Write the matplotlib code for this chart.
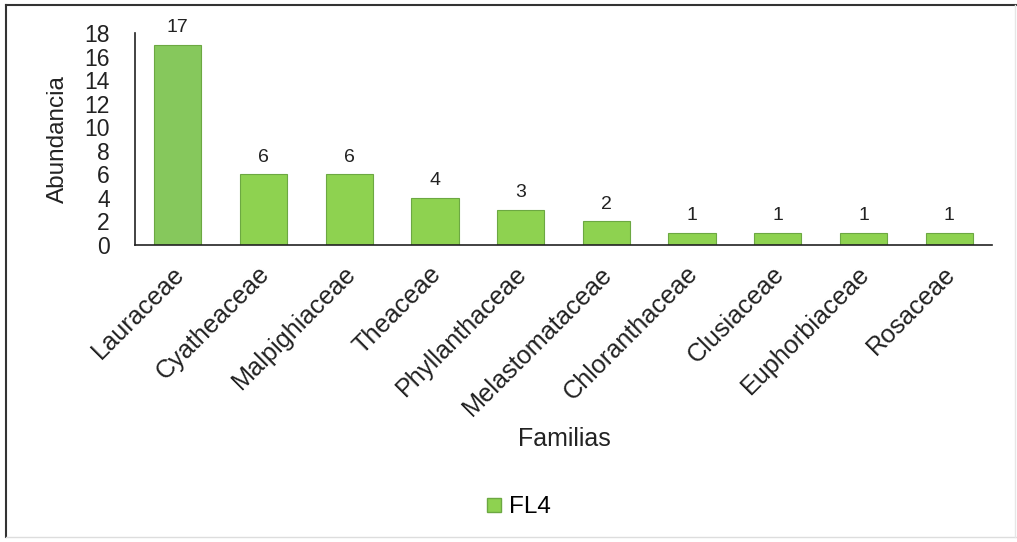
import matplotlib
matplotlib.use("Agg")
import matplotlib.pyplot as plt
import matplotlib.transforms as mtransforms
from matplotlib.lines import Line2D

plt.rcParams['font.family'] = ['Liberation Sans', 'DejaVu Sans']

familias = ["Lauraceae", "Cyatheaceae", "Malpighiaceae", "Theaceae",
            "Phyllanthaceae", "Melastomataceae", "Chloranthaceae",
            "Clusiaceae", "Euphorbiaceae", "Rosaceae"]
abundancia = [17, 6, 6, 4, 3, 2, 1, 1, 1, 1]
serie = "FL4"
y_ticks = [0, 2, 4, 6, 8, 10, 12, 14, 16, 18]

W, H = 1017, 542
fig = plt.figure(figsize=(W / 100, H / 100), dpi=100)
fig.patch.set_facecolor("white")

# axes box in pixel coordinates
left, right, top, bottom = 135, 992, 33, 245
ax = fig.add_axes([left / W, 1 - bottom / H, (right - left) / W, (bottom - top) / H])

x = list(range(len(familias)))
bars = ax.bar(x, abundancia, width=0.55, color="#8ed250",
              edgecolor="#6ca842", linewidth=0.8, label=serie, zorder=2)
bars[0].set_facecolor("#86c85c")

for xi, v in zip(x, abundancia):
    ax.text(xi, v + 0.75, str(v), ha="center", va="bottom",
            fontsize=14, color="#222222")

ax.set_xlim(-0.5, len(familias) - 0.5)
ax.set_ylim(0, 18)
ax.set_yticks(y_ticks)
ax.set_yticklabels([str(t) for t in y_ticks], fontsize=16.5, color="#222222")
ax.tick_params(axis="y", length=0, pad=18)
ax.tick_params(axis="x", length=0, pad=12)
ax.set_xticks(x)
ax.set_xticklabels(familias, rotation=45, ha="right", rotation_mode="anchor",
                   fontsize=18.2, color="#222222")
shift = mtransforms.ScaledTranslation(-6 / 100, 0, fig.dpi_scale_trans)
for lbl in ax.get_xticklabels():
    lbl.set_transform(lbl.get_transform() + shift)

for s in ("top", "right"):
    ax.spines[s].set_visible(False)
for s in ("left", "bottom"):
    ax.spines[s].set_color("#222222")
    ax.spines[s].set_linewidth(1.2)

fig.text(58 / W, 1 - 139 / H, "Abundancia", rotation=90, ha="center",
         va="center", fontsize=17.5, color="#222222")
fig.text(564 / W, 1 - 439 / H, "Familias", ha="center", va="center",
         fontsize=18, color="#222222")

handle = Line2D([], [], marker="s", linestyle="none", markersize=9.5,
                markerfacecolor="#8ed250", markeredgecolor="#6ca842")
fig.legend([handle], [serie], loc="center", bbox_to_anchor=(517 / W, 1 - 507 / H),
           frameon=False, fontsize=17.5, handletextpad=0.15, handlelength=0.9)

# outer frame
fig.add_artist(Line2D([6 / W, 1016 / W], [1 - 5 / H, 1 - 5 / H],
                      transform=fig.transFigure, color="#333333", linewidth=1.5))
fig.add_artist(Line2D([6 / W, 6 / W], [1 - 5 / H, 1 - 537 / H],
                      transform=fig.transFigure, color="#333333", linewidth=1.5))
fig.add_artist(Line2D([6 / W, 1016 / W], [1 - 537 / H, 1 - 537 / H],
                      transform=fig.transFigure, color="#dddddd", linewidth=1.0))
fig.add_artist(Line2D([1015 / W, 1015 / W], [1 - 5 / H, 1 - 537 / H],
                      transform=fig.transFigure, color="#e6e6e6", linewidth=1.0))

fig.savefig("out.png", dpi=100)
